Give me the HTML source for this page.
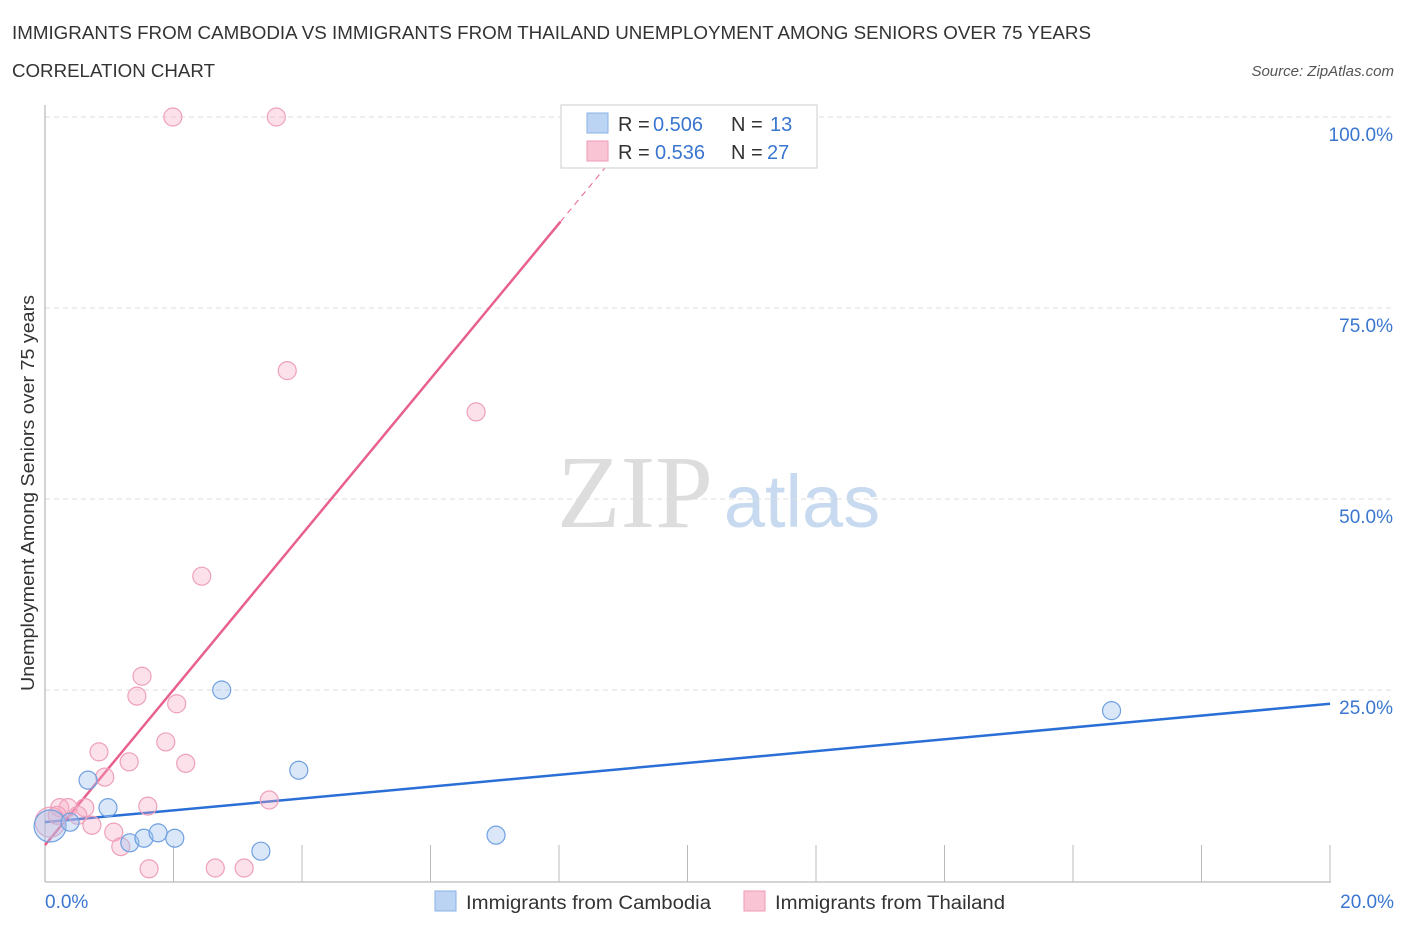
<!DOCTYPE html>
<html><head><meta charset="utf-8"><style>
body{margin:0;background:#fff;font-family:"Liberation Sans",sans-serif}
</style></head><body>
<svg width="1406" height="930" xmlns="http://www.w3.org/2000/svg" font-family="Liberation Sans, sans-serif">
<text x="12" y="39" font-size="18" fill="#333" textLength="1079" lengthAdjust="spacingAndGlyphs">IMMIGRANTS FROM CAMBODIA VS IMMIGRANTS FROM THAILAND UNEMPLOYMENT AMONG SENIORS OVER 75 YEARS</text>
<text x="12" y="77" font-size="18" fill="#333" textLength="203" lengthAdjust="spacingAndGlyphs">CORRELATION CHART</text>
<text x="1394" y="76" font-size="15" fill="#555" font-style="italic" text-anchor="end">Source: ZipAtlas.com</text>
<g>
<text x="635" y="527" font-size="104" fill="#ddd" font-family="Liberation Serif, serif" text-anchor="middle">ZIP</text>
<text x="802" y="527" font-size="74" fill="#c8daf0" text-anchor="middle">atlas</text>
</g>
<g id="grid"></g>
<g id="axes"></g>
<text transform="translate(34,493) rotate(-90)" font-size="18" fill="#333" text-anchor="middle" textLength="396" lengthAdjust="spacingAndGlyphs">Unemployment Among Seniors over 75 years</text>
<g id="lines"></g>
<g id="pts"></g>
<g>
<rect x="561" y="105" width="256" height="63" fill="#fff" stroke="#ccc"/>
<rect x="587" y="113" width="21" height="20" fill="#bcd4f4" stroke="#8ab0e6"/>
<rect x="587" y="141" width="21" height="20" fill="#f9c5d5" stroke="#ee9ab4"/>
<text x="618" y="131" font-size="20" fill="#333">R = <tspan fill="#3a76d0" x="653">0.506</tspan><tspan x="731">N = </tspan><tspan fill="#3a76d0" x="770">13</tspan></text>
<text x="618" y="159" font-size="20" fill="#333">R = <tspan fill="#3a76d0" x="655">0.536</tspan><tspan x="731">N = </tspan><tspan fill="#3a76d0" x="767">27</tspan></text>
</g>
<g>
<rect x="435" y="891" width="21" height="20" fill="#bcd4f4" stroke="#8ab0e6"/>
<text x="466" y="909" font-size="19" fill="#333" textLength="245" lengthAdjust="spacingAndGlyphs">Immigrants from Cambodia</text>
<rect x="744" y="891" width="21" height="20" fill="#f9c5d5" stroke="#ee9ab4"/>
<text x="775" y="909" font-size="19" fill="#333" textLength="230" lengthAdjust="spacingAndGlyphs">Immigrants from Thailand</text>
</g>
</svg>
<script>
const cambodiaX=[0.08,0.39,0.67,0.98,1.32,1.54,1.76,2.02,2.75,3.36,3.95,7.02,16.6];
const cambodiaY=[7.2,7.7,13.2,9.6,5.0,5.6,6.3,5.6,25.0,3.9,14.5,6.0,22.3];
const thailandX=[1.99,3.6,3.77,6.71,2.44,1.51,1.43,2.05,1.88,0.84,1.31,2.19,0.93,0.23,0.36,0.62,1.6,3.49,0.73,1.07,1.18,1.62,2.65,3.1,0.08,0.19,0.51];
const thailandY=[100,100,66.8,61.4,39.9,26.8,24.2,23.2,18.2,16.9,15.6,15.4,13.6,9.6,9.6,9.6,9.8,10.6,7.3,6.4,4.5,1.6,1.7,1.7,7.7,8.6,8.6];
const cambodiaTrend=[7.7,23.2];
const thailandTrend=[4.7,10.17];
const yTicks=[25,50,75,100];
const yTickLabels=["25.0%","50.0%","75.0%","100.0%"];
const xTickLabels=["0.0%","20.0%"];
const NS="http://www.w3.org/2000/svg";
const X=v=>45+v/20*1285, Y=v=>881-v/100*764;
function mk(tag,attrs,parent){const e=document.createElementNS(NS,tag);for(const k in attrs)e.setAttribute(k,attrs[k]);document.getElementById(parent).appendChild(e);return e;}
yTicks.forEach((t,i)=>{
 const l=mk('line',{x1:45,x2:1394,y1:Y(t),y2:Y(t),stroke:'#ddd','stroke-dasharray':'5,4'},'grid');
 
 
 const tx=mk('text',{x:1393,y:Y(t)+24,'font-size':19,fill:'#3a76d0','text-anchor':'end'},'grid');
 tx.textContent=yTickLabels[i];
 
 
});
let a=mk('line',{x1:45,x2:45,y1:105,y2:882,stroke:'#aaa'},'axes');


a=mk('line',{x1:45,x2:1331,y1:882,y2:882,stroke:'#aaa'},'axes');


for(let i=1;i<=10;i++){const t=mk('line',{x1:X(i*2),x2:X(i*2),y1:845,y2:882,stroke:'#bbb'},'axes');
 
 }
[[0,'start',45],[20,'end',1394]].forEach((d,i)=>{const t=mk('text',{x:d[2],y:908,'font-size':19,fill:'#3a76d0','text-anchor':d[1]},'axes');t.textContent=xTickLabels[i];
 
 });
let ln=mk('line',{x1:X(0),y1:Y(cambodiaTrend[0]),x2:X(20),y2:Y(cambodiaTrend[1]),stroke:'#2a6fd6','stroke-width':2.5},'lines');


const xs=(86.3-thailandTrend[0])/thailandTrend[1], xe=(94.5-thailandTrend[0])/thailandTrend[1];
ln=mk('line',{x1:X(0),y1:Y(thailandTrend[0]),x2:X(xs),y2:Y(thailandTrend[0]+thailandTrend[1]*xs),stroke:'#e8608c','stroke-width':2.5},'lines');


ln=mk('line',{x1:X(xs),y1:Y(thailandTrend[0]+thailandTrend[1]*xs),x2:X(xe),y2:Y(thailandTrend[0]+thailandTrend[1]*xe),stroke:'#e8608c','stroke-width':1,'stroke-dasharray':'6,5'},'lines');


thailandX.forEach((x,i)=>{const c=mk('circle',{cx:X(x),cy:Y(thailandY[i]),r:i==24?15:9,fill:'rgba(246,170,195,0.35)',stroke:'#eea0ba','stroke-width':1.2},'pts');
 
 });
cambodiaX.forEach((x,i)=>{const c=mk('circle',{cx:X(x),cy:Y(cambodiaY[i]),r:i==0?16:9,fill:'rgba(160,195,240,0.4)',stroke:'#6fa0e0','stroke-width':1.2},'pts');
 
 });
</script>
</body></html>
